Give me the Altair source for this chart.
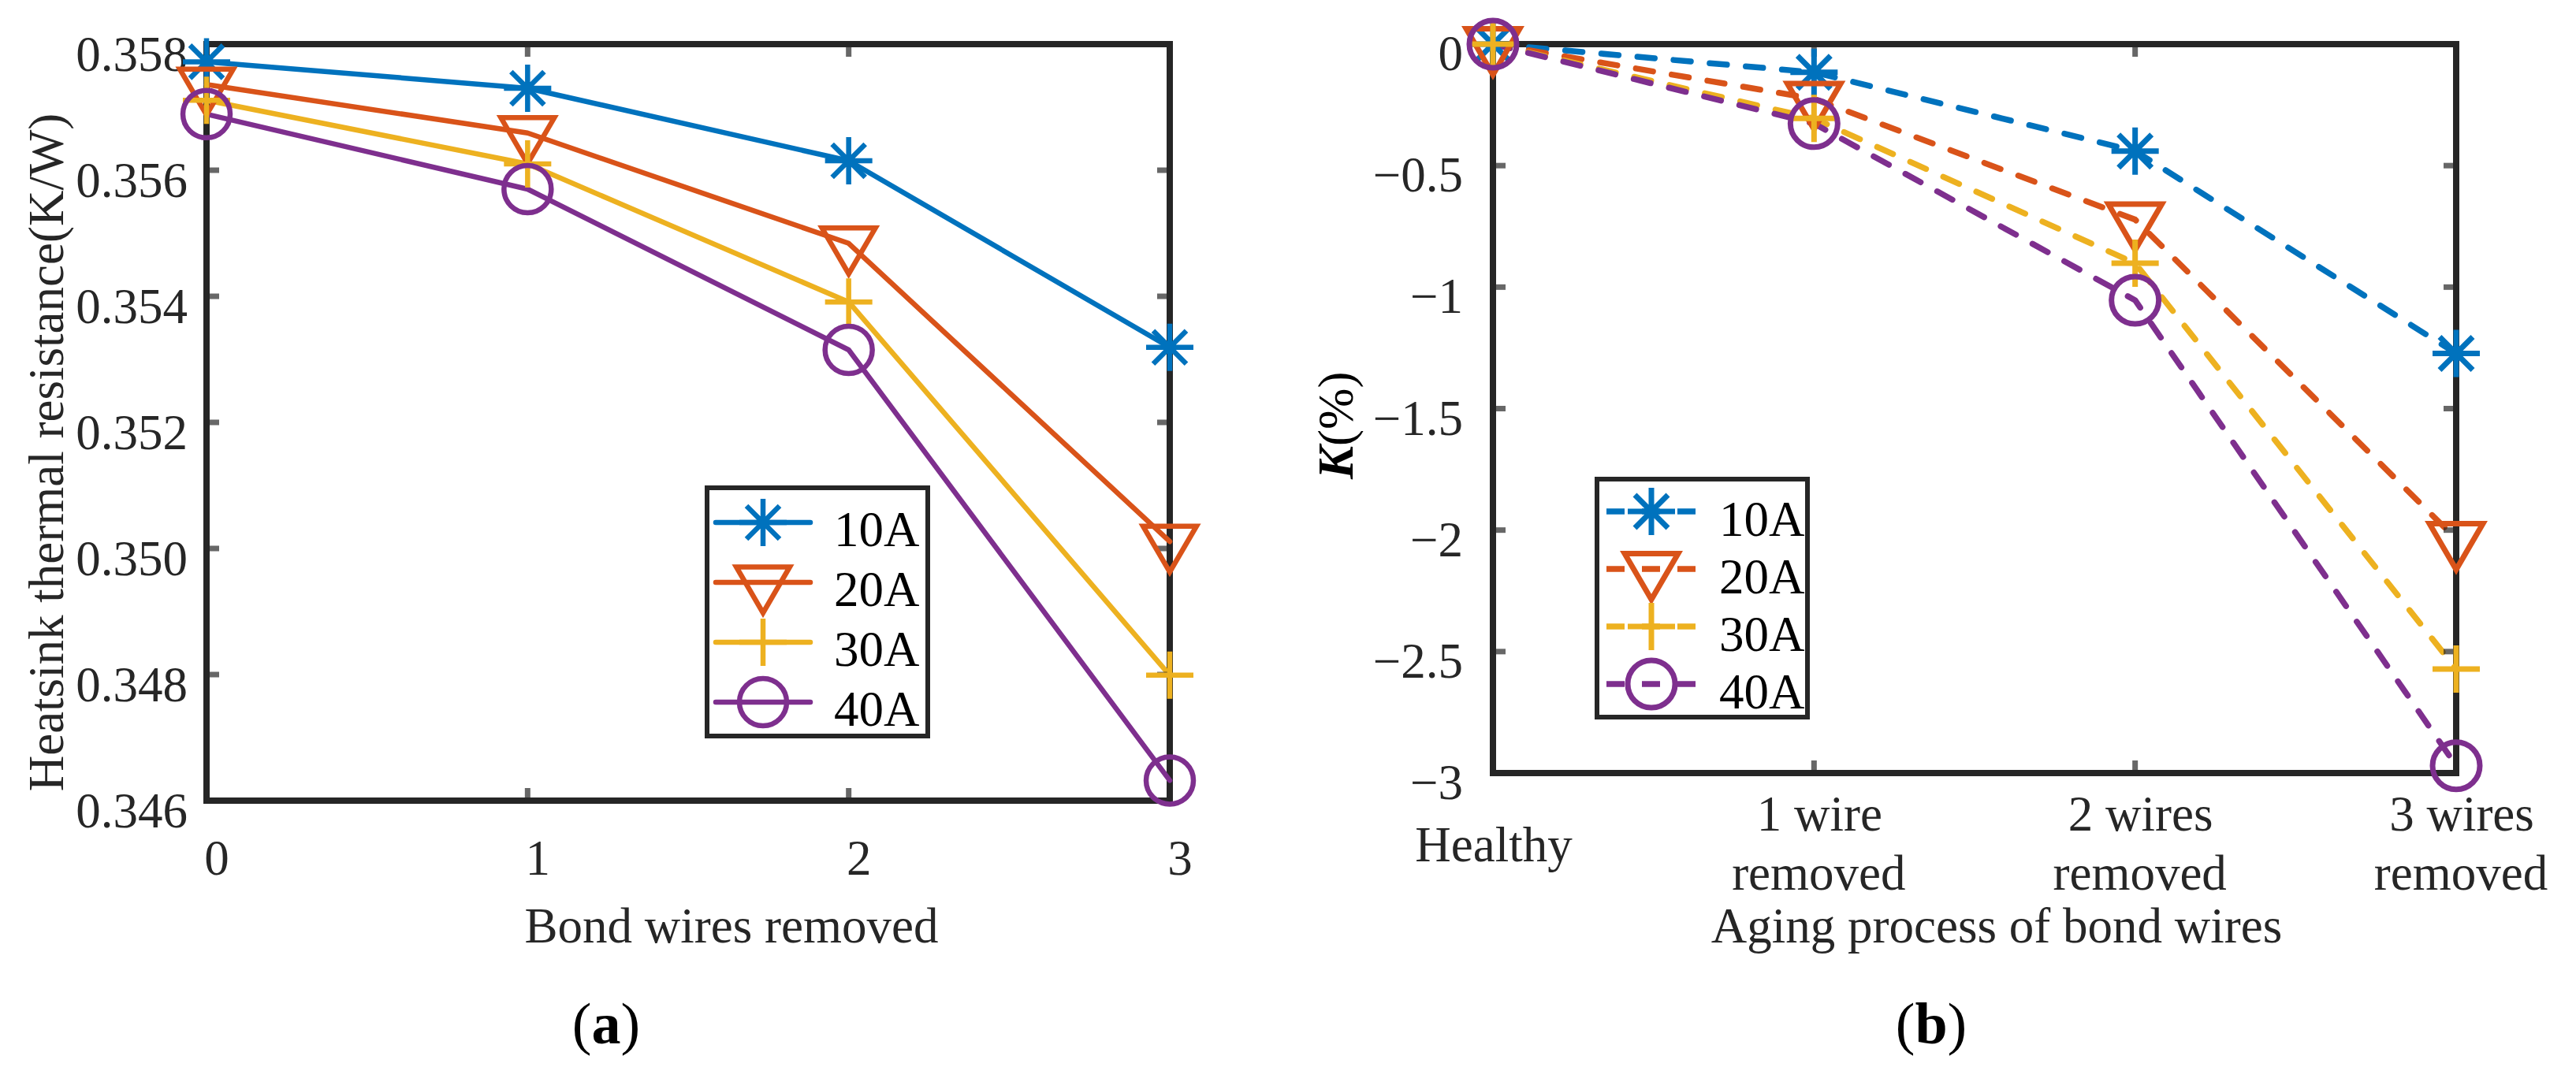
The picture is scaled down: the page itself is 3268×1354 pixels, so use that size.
import altair as alt
import pandas as pd

# ---------------- data ----------------
SERIES = ["10A", "20A", "30A", "40A"]
COLORS = ["#0072BD", "#D95319", "#EDB120", "#7E2F8E"]

WIRES = [0, 1, 2, 3]
RES_10A = [0.35772, 0.35730, 0.35615, 0.35319]
RES_20A = [0.35736, 0.35659, 0.35484, 0.35011]
RES_30A = [0.35711, 0.35610, 0.35391, 0.34799]
RES_40A = [0.35689, 0.35570, 0.35315, 0.34632]

K_10A = [0.0, -0.116, -0.440, -1.273]
K_20A = [0.0, -0.225, -0.722, -2.037]
K_30A = [0.0, -0.306, -0.902, -2.572]
K_40A = [0.0, -0.327, -1.054, -2.970]

STAGE_LABELS = ["Healthy", "1 wire\nremoved", "2 wires\nremoved", "3 wires\nremoved"]

A_X_TICKS = [0, 1, 2, 3]
A_X_LABELS = ["0", "1", "2", "3"]
A_Y_TICKS = [0.346, 0.348, 0.350, 0.352, 0.354, 0.356, 0.358]
A_Y_LABELS = ["0.346", "0.348", "0.350", "0.352", "0.354", "0.356", "0.358"]
B_X_TICKS = [0, 1, 2, 3]
B_Y_TICKS = [-3, -2.5, -2, -1.5, -1, -0.5, 0]
B_Y_LABELS = ["\u22123", "\u22122.5", "\u22122", "\u22121.5", "\u22121", "\u22120.5", "0"]

# ---------------- style ----------------
FONT = "Liberation Serif"
FS = 63
AX = "#262626"
STAR = "M-1,0L1,0M0,-1L0,1M-0.7,-0.7L0.7,0.7M-0.7,0.7L0.7,-0.7"
TRI = "M-1.13,-0.65L1.13,-0.65L0,1.29Z"
PLUS = "M-1,0L1,0M0,-1L0,1"
SHAPES = [STAR, TRI, PLUS, "circle"]

color_scale = alt.Scale(domain=SERIES, range=COLORS)
shape_scale = alt.Scale(domain=SERIES, range=SHAPES)
col = alt.Color("s:N", scale=color_scale, legend=None)
shp = alt.Shape("s:N", scale=shape_scale, legend=None)


def long_df(xs, cols):
    rows = []
    for s, vals in zip(SERIES, cols):
        for x, v in zip(xs, vals):
            rows.append({"x": x, "y": v, "s": s})
    return pd.DataFrame(rows)


df_a = long_df(WIRES, [RES_10A, RES_20A, RES_30A, RES_40A])
df_b = long_df(WIRES, [K_10A, K_20A, K_30A, K_40A])
one = pd.DataFrame({"o": [0]})
TXT = dict(font=FONT, fontSize=FS, color=AX)


def ticks_layers(xt, yt, xs, ys, W, H):
    tk = dict(color=AX, thickness=7, size=16)
    dx = pd.DataFrame({"v": xt})
    dy = pd.DataFrame({"v": yt})
    return [
        alt.Chart(dx).mark_tick(**tk).encode(x=alt.X("v:Q", scale=xs, axis=None), y=alt.value(H - 8)),
        alt.Chart(dx).mark_tick(**tk).encode(x=alt.X("v:Q", scale=xs, axis=None), y=alt.value(8)),
        alt.Chart(dy).mark_tick(**tk).encode(y=alt.Y("v:Q", scale=ys, axis=None), x=alt.value(8)),
        alt.Chart(dy).mark_tick(**tk).encode(y=alt.Y("v:Q", scale=ys, axis=None), x=alt.value(W - 8)),
    ]


def x_label_layer(vals, texts, xs, ypix, xdx):
    d = pd.DataFrame({"v": vals, "t": texts})
    return alt.Chart(d).mark_text(align="center", baseline="alphabetic", dx=xdx, **TXT).encode(
        x=alt.X("v:Q", scale=xs, axis=None), y=alt.value(ypix), text="t:N")


def y_label_layer(vals, texts, ys, xpix, ydy):
    d = pd.DataFrame({"v": vals, "t": texts})
    return alt.Chart(d).mark_text(align="right", baseline="alphabetic", dy=ydy, **TXT).encode(
        y=alt.Y("v:Q", scale=ys, axis=None), x=alt.value(xpix), text="t:N")


def text_at(text, x, y, align="center", angle=0, **kw):
    base = dict(TXT, baseline="alphabetic")
    base.update(kw)
    return alt.Chart(one).mark_text(text=text, align=align, angle=angle, **base).encode(
        x=alt.value(x), y=alt.value(y))


def legend_layers(box, row0, step, lx1, lx2, lm, ltx, ldy, sw, psw, dash=None, cap="round"):
    rule_kw = dict(strokeWidth=sw, strokeCap=cap)
    if dash:
        rule_kw["strokeDash"] = dash
    layers = [
        alt.Chart(one).mark_rect(fill="white", stroke=AX, strokeWidth=6).encode(
            x=alt.value(box[0]), x2=alt.value(box[1]), y=alt.value(box[2]), y2=alt.value(box[3]))
    ]
    for i, s in enumerate(SERIES):
        row = pd.DataFrame({"s": [s]})
        yy = row0 + i * step
        layers.append(alt.Chart(row).mark_rule(**rule_kw).encode(
            x=alt.value(lx1), x2=alt.value(lx2), y=alt.value(yy), color=col))
        layers.append(alt.Chart(row).mark_point(filled=False, size=3600, strokeWidth=psw, opacity=1).encode(
            x=alt.value(lm), y=alt.value(yy), color=col, shape=shp))
        layers.append(alt.Chart(row).mark_text(align="left", baseline="alphabetic", font=FONT, fontSize=FS,
                                               color="black").encode(
            x=alt.value(ltx), y=alt.value(yy + ldy), text="s:N"))
    return layers


def caption(letter, cx, y, half):
    kw = dict(fontSize=74, color="black")
    return [
        text_at("(", cx - half, y, align="right", **kw),
        text_at(letter, cx, y, align="center", fontWeight="bold", **kw),
        text_at(")", cx + half, y, align="left", **kw),
    ]


# ---------------- panel (a) ----------------
WA, HA = 1222, 960
xs_a = alt.Scale(domain=[0, 3], nice=False, zero=False)
ys_a = alt.Scale(domain=[0.346, 0.358], nice=False, zero=False)

lines_a = alt.Chart(df_a).mark_line(strokeWidth=6.5, strokeCap="round", strokeJoin="round").encode(
    x=alt.X("x:Q", scale=xs_a, axis=None), y=alt.Y("y:Q", scale=ys_a, axis=None), color=col)
pts_a = alt.Chart(df_a).mark_point(filled=False, size=3600, strokeWidth=6.5, opacity=1).encode(
    x=alt.X("x:Q", scale=xs_a, axis=None), y=alt.Y("y:Q", scale=ys_a, axis=None), color=col, shape=shp)

panel_a = alt.layer(
    lines_a,
    *ticks_layers(A_X_TICKS, A_Y_TICKS, xs_a, ys_a, WA, HA),
    x_label_layer(A_X_TICKS, A_X_LABELS, xs_a, HA + 94, 13),
    y_label_layer(A_Y_TICKS, A_Y_LABELS, ys_a, -24, 34),
    text_at("Bond wires removed", 666, HA + 180),
    text_at("Heatsink thermal resistance(K/W)", -182, 518, angle=270),
    pts_a,
    *legend_layers((635, 915, 563, 878), 607, 76, 646, 766, 706, 796, 30, 6.5, 6.5),
    *caption("a", 507, 1268, 18.5),
).properties(width=WA, height=HA)

# ---------------- panel (b) ----------------
WB, HB = 1222, 925
xs_b = alt.Scale(domain=[0, 3], nice=False, zero=False)
ys_b = alt.Scale(domain=[-3, 0], nice=False, zero=False)

single_v, single_t, two_v, two_t1, two_t2 = [], [], [], [], []
for v, lab in zip(B_X_TICKS, STAGE_LABELS):
    parts = lab.split("\n")
    if len(parts) == 1:
        single_v.append(v)
        single_t.append(parts[0])
    else:
        two_v.append(v)
        two_t1.append(parts[0])
        two_t2.append(parts[1])

lines_b = alt.Chart(df_b).mark_line(strokeWidth=7.5, strokeCap="round", strokeJoin="round",
                                    strokeDash=[22, 24]).encode(
    x=alt.X("x:Q", scale=xs_b, axis=None), y=alt.Y("y:Q", scale=ys_b, axis=None), color=col)
pts_b = alt.Chart(df_b).mark_point(filled=False, size=3600, strokeWidth=7, opacity=1).encode(
    x=alt.X("x:Q", scale=xs_b, axis=None), y=alt.Y("y:Q", scale=ys_b, axis=None), color=col, shape=shp)

panel_b = alt.layer(
    lines_b,
    *ticks_layers(B_X_TICKS, B_Y_TICKS, xs_b, ys_b, WB, HB),
    x_label_layer(single_v, single_t, xs_b, HB + 112, 1),
    x_label_layer(two_v, two_t1, xs_b, HB + 73, 7),
    x_label_layer(two_v, two_t2, xs_b, HB + 148, 6),
    y_label_layer(B_Y_TICKS, B_Y_LABELS, ys_b, -38, 33),
    text_at("Aging process of bond wires", 639, HB + 215),
    text_at("K", -178, 510, align="right", angle=270, fontStyle="italic", fontWeight="bold", color="black"),
    text_at("(%)", -178, 510, align="left", angle=270, color="black"),
    pts_b,
    *legend_layers((132, 399, 552, 854), 593, 73, 144, 259, 201, 287, 31, 7.5, 7, dash=[23, 22], cap="butt"),
    *caption("b", 556, 1268, 20.5),
).properties(width=WB, height=HB)

chart = alt.hconcat(panel_a, panel_b, spacing=410, bounds="flush").properties(
    padding={"left": 17, "top": 0, "right": 5, "bottom": 0}
).configure_view(stroke=AX, strokeWidth=8)

chart.save("out.html", embed_options={"renderer": "svg", "actions": False})
